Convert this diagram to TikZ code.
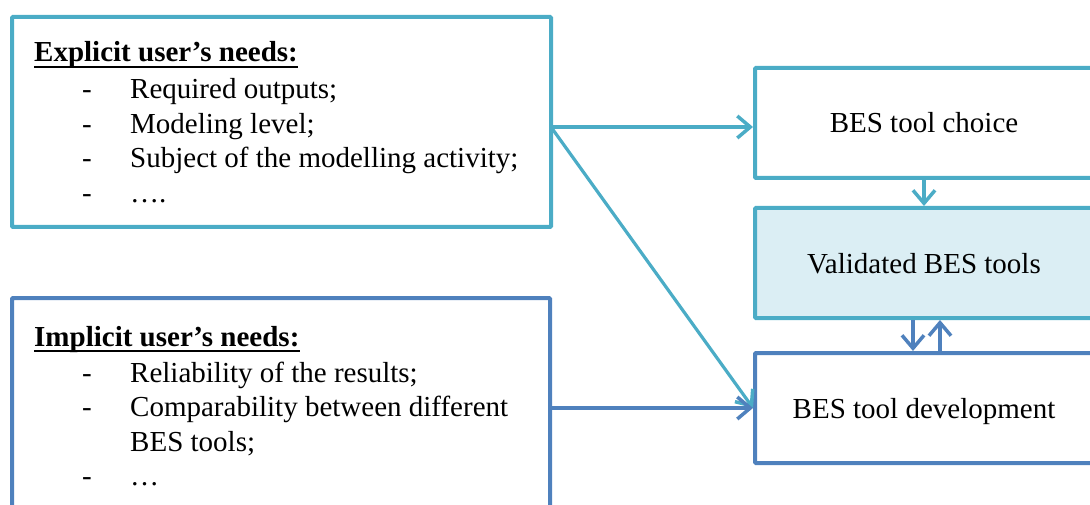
\documentclass[tikz,border=0pt]{standalone}
\usepackage{fontspec}
\setmainfont{Liberation Serif}
\usetikzlibrary{arrows.meta}
\definecolor{aqua}{HTML}{4BACC6}
\definecolor{bblue}{HTML}{4F81BD}
\definecolor{lfill}{HTML}{DBEEF4}
\tikzset{
  box/.style={draw, line width=4pt, rounded corners=1pt, inner sep=0pt},
  arr/.style={line width=3.2pt, -{Straight Barb[length=13pt,width=22pt,line width=3.5pt]}},
  txt/.style={inner sep=0pt, anchor=base west},
  ctxt/.style={inner sep=0pt, anchor=base},
}
\begin{document}
\begin{tikzpicture}[x=1pt,y=-1pt,font=\fontsize{29}{34.5}\selectfont]
\useasboundingbox (0,0) rectangle (1090,505);
% boxes
\node[box, draw=aqua, minimum width=539pt, minimum height=210pt] (b1) at (281.5,122) {};
\node[box, draw=bblue, minimum width=538pt, minimum height=220pt] (b2) at (281,408) {};
\node[box, draw=aqua, minimum width=338pt, minimum height=110pt] (choice) at (924,123) {};
\node[box, draw=aqua, fill=lfill, minimum width=338pt, minimum height=110pt] (valid) at (924,263) {};
\node[box, draw=bblue, minimum width=338pt, minimum height=110pt] (dev) at (924,408) {};
% right texts
\node[ctxt] (tchoice) at (924,133) {BES tool choice};
\node[ctxt] (tvalid) at (924,273) {Validated BES tools};
\node[ctxt] (tdev) at (924,418) {BES tool development};
% box 1 text
\node[txt] (h1) at (34,62) {\bfseries Explicit user’s needs:};
\draw[line width=2pt] ([yshift=-5pt]h1.base west) -- ([yshift=-5pt]h1.base east);
\node[txt] (d11) at (82,99) {-};
\node[txt] (i11) at (130,99) {Required outputs;};
\node[txt] (d12) at (82,133.5) {-};
\node[txt] (i12) at (130,133.5) {Modeling level;};
\node[txt] (d13) at (82,168) {-};
\node[txt] (i13) at (130,168) {Subject of the modelling activity;};
\node[txt] (d14) at (82,202.5) {-};
\node[txt] (i14) at (130,202.5) {….};
% box 2 text
\node[txt] (h2) at (34,346) {\bfseries Implicit user’s needs:};
\draw[line width=2pt] ([yshift=-5pt]h2.base west) -- ([yshift=-5pt]h2.base east);
\node[txt] (d21) at (82,382) {-};
\node[txt] (i21) at (130,382) {Reliability of the results;};
\node[txt] (d22) at (82,416.5) {-};
\node[txt] (i22) at (130,416.5) {Comparability between different};
\node[txt] (i23) at (130,451) {BES tools;};
\node[txt] (d24) at (82,485.5) {-};
\node[txt] (i24) at (130,485.5) {…};
% connectors
\coordinate (s1) at (551,127);
\draw[arr, aqua] (s1) -- (s1 -| choice.west);
\draw[arr, aqua] (s1) -- (dev.west);
\draw[arr, bblue] (b2.east) -- (dev.west);
\draw[arr, aqua] (choice.south) -- (valid.north);
\draw[arr, bblue] ([xshift=-11pt]valid.south) -- ([xshift=-11pt]dev.north);
\draw[arr, bblue] ([xshift=16pt]dev.north) -- ([xshift=16pt]valid.south);
\end{tikzpicture}
\end{document}
